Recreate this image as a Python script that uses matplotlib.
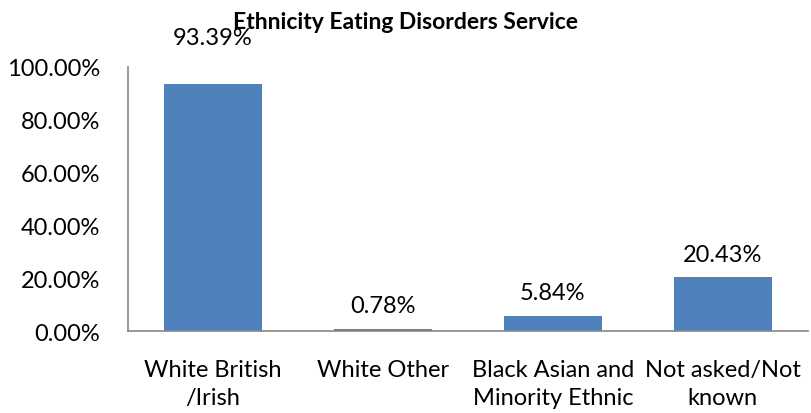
import matplotlib.pyplot as plt
import numpy as np
from matplotlib.ticker import FuncFormatter

categories = ['White British\n/Irish', 'White Other', 'Black Asian and\nMinority Ethnic', 'Not asked/Not\nknown']
values = [93.39, 0.78, 5.84, 20.43]
yticks = [0, 20, 40, 60, 80, 100]

plt.rcParams['font.family'] = ['Lato', 'DejaVu Sans']

fig = plt.figure(figsize=(8.11, 4.14), dpi=100)
ax = fig.add_axes([0.158, 0.198, 0.838, 0.638])

x = np.arange(len(categories))
ax.bar(x, values, width=0.58, color='#4F81BD')
for xi, v in zip(x, values):
    off = 26 if v > 90 else 9  # top label sits higher, as in the original
    ax.annotate(f'{v:.2f}%', (xi, v), xytext=(0, off), textcoords='offset points',
                ha='center', va='bottom', fontsize=17, annotation_clip=False)

ax.set_xlim(-0.5, len(categories) - 0.5)
ax.set_ylim(0, 100)
ax.set_yticks(yticks)
ax.yaxis.set_major_formatter(FuncFormatter(lambda v, p: f'{v:.2f}%'))
ax.set_xticks(x)
ax.set_xticklabels(categories, fontsize=17, linespacing=1.45)
ax.tick_params(axis='both', length=0)
ax.tick_params(axis='y', labelsize=17, pad=20)
ax.tick_params(axis='x', pad=20)
for s in ['top', 'right']:
    ax.spines[s].set_visible(False)
for s in ['left', 'bottom']:
    ax.spines[s].set_color('#878787')
    ax.spines[s].set_linewidth(1.2)

fig.suptitle('Ethnicity Eating Disorders Service', fontsize=16.5, fontweight='bold', y=0.972)

fig.savefig('out.png', dpi=100)
